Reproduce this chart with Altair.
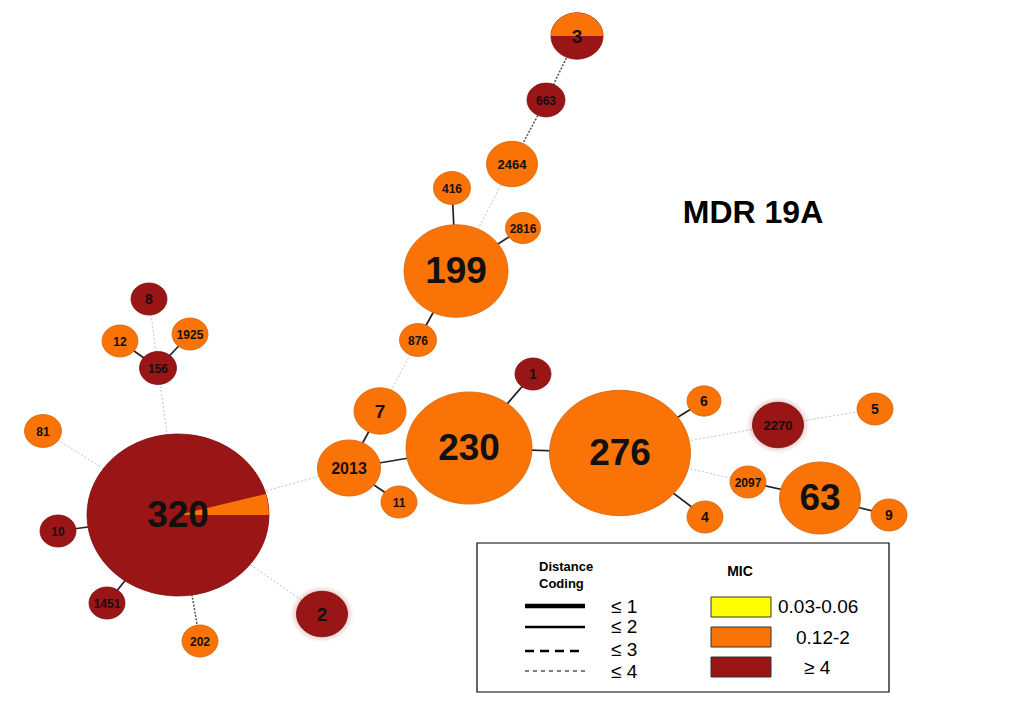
import altair as alt
import pandas as pd

# ---------------- data ----------------
node_id = ["3", "663", "2464", "416", "2816", "199", "876", "7", "2013", "11",
           "230", "1", "276", "6", "4", "2270", "5", "2097", "63", "9",
           "320", "156", "8", "12", "1925", "81", "10", "1451", "202", "2"]
node_x = [577, 546, 512, 452, 523, 456, 418, 380, 349, 399,
          469, 533, 620, 704, 705, 778, 875, 748, 820, 889,
          178, 158, 149, 120, 190, 43, 58, 107, 200, 322]
node_y = [36, 100, 164, 188, 228, 271, 340, 411, 468, 502,
          448, 374, 453, 401, 517, 425, 409, 482, 498, 515,
          515, 368, 299, 341, 334, 431, 531, 603, 641, 614]
node_diam = [52, 38, 51, 37, 35, 104, 37, 52, 63, 36,
             126, 36, 141, 34, 36, 51, 36, 36, 81, 36,
             182, 37, 36, 36, 36, 37, 36, 36, 36, 51]
node_mic = ["≥ 4", "≥ 4", "0.12-2", "0.12-2", "0.12-2", "0.12-2", "0.12-2", "0.12-2", "0.12-2", "0.12-2",
            "0.12-2", "≥ 4", "0.12-2", "0.12-2", "0.12-2", "≥ 4", "0.12-2", "0.12-2", "0.12-2", "0.12-2",
            "≥ 4", "≥ 4", "≥ 4", "0.12-2", "0.12-2", "0.12-2", "≥ 4", "≥ 4", "0.12-2", "≥ 4"]

edge_from = ["3", "663", "2464", "416", "2816", "199", "876", "7", "2013", "2013",
             "2013", "230", "230", "276", "276", "276", "2270", "276", "2097", "63",
             "320", "156", "156", "156", "320", "320", "320", "320", "320"]
edge_to = ["663", "2464", "199", "199", "199", "876", "7", "2013", "230", "11",
           "320", "1", "276", "6", "4", "2270", "5", "2097", "63", "9",
           "156", "8", "12", "1925", "81", "10", "1451", "202", "2"]
edge_dist = [3, 3, 4, 2, 2, 2, 4, 2, 2, 2,
             4, 2, 2, 2, 2, 4, 4, 4, 2, 2,
             4, 4, 2, 2, 4, 2, 2, 3, 4]

mic_classes = ["0.03-0.06", "0.12-2", "≥ 4"]
mic_fill = ["#FFFF00", "#F97306", "#9A1515"]
mic_stroke = ["#C8C800", "#D5640C", "#7A1010"]

dist_labels = ["≤ 1", "≤ 2", "≤ 3", "≤ 4"]

title_text = "MDR 19A"

# ---------------- frames ----------------
nodes = pd.DataFrame({"id": node_id, "x": node_x, "y": node_y,
                      "d": node_diam, "mic": node_mic})
nodes["size"] = nodes["d"] ** 2


def label_size(row):
    if row["d"] >= 75:
        return 37
    if row["d"] >= 45:
        if len(row["id"]) <= 2:
            return 19
        return 16 if row["d"] >= 60 else 13
    if len(row["id"]) == 1:
        return 14
    return 12


nodes["fs"] = nodes.apply(label_size, axis=1)

pos = dict(zip(node_id, zip(node_x, node_y)))
edges = pd.DataFrame({
    "x": [pos[a][0] for a in edge_from], "y": [pos[a][1] for a in edge_from],
    "x2": [pos[b][0] for b in edge_to], "y2": [pos[b][1] for b in edge_to],
    "dist": edge_dist,
})

X = alt.Scale(domain=[8, 1001], nice=False, zero=False)
Y = alt.Scale(domain=[8, 707], nice=False, zero=False, reverse=True)

k = 0.89
c = 0.5523
ellipse = (f"M1,0 C1,{c*k:.4f} {c},{k} 0,{k} C{-c},{k} -1,{c*k:.4f} -1,0 "
           f"C-1,{-c*k:.4f} {-c},{-k} 0,{-k} C{c},{-k} 1,{-c*k:.4f} 1,0 Z")
top_half = (f"M-1,0 C-1,{-c*k:.4f} {-c},{-k} 0,{-k} C{c},{-k} 1,{-c*k:.4f} 1,0 Z")
wedge = "M0,0 L0.967,-0.232 Q0.995,-0.12 1,0 Z"


def enc_xy(ch):
    return ch.encode(x=alt.X("x:Q", scale=X, axis=None),
                     y=alt.Y("y:Q", scale=Y, axis=None))


# edges
styles = {
    2: dict(color="#222222", strokeWidth=1.7),
    3: dict(color="#555555", strokeWidth=1.5, strokeDash=[2, 1.5]),
    4: dict(color="#C4C4C4", strokeWidth=1, strokeDash=[2, 2]),
}
edge_layers = []
for dv, st in styles.items():
    edge_layers.append(
        alt.Chart(edges[edges["dist"] == dv]).mark_rule(**st).encode(
            x=alt.X("x:Q", scale=X, axis=None), y=alt.Y("y:Q", scale=Y, axis=None),
            x2="x2:Q", y2="y2:Q")
    )

# soft glow for 2270 and 2
glow_layers = []
glow_base = nodes[nodes["id"].isin(["2270", "2"])].copy()
for extra, op in [(12, 0.04), (8, 0.06), (4, 0.08)]:
    g = glow_base.copy()
    g["size"] = (g["d"] + extra) ** 2
    glow_layers.append(enc_xy(alt.Chart(g).mark_point(shape=ellipse, filled=True, opacity=op,
                                                      color="#9A1515", strokeWidth=0)).encode(
        size=alt.Size("size:Q", scale=None)))

fill_scale = alt.Scale(domain=mic_classes, range=mic_fill)
stroke_scale = alt.Scale(domain=mic_classes, range=mic_stroke)

node_layer = enc_xy(alt.Chart(nodes).mark_point(shape=ellipse, filled=True, opacity=1,
                                                strokeWidth=0.8)).encode(
    size=alt.Size("size:Q", scale=None),
    fill=alt.Fill("mic:N", scale=fill_scale, legend=None),
    stroke=alt.Stroke("mic:N", scale=stroke_scale, legend=None),
)

# partial slices: 3 top half orange, 320 small orange wedge
half_df = nodes[nodes["id"] == "3"].copy()
half_df["mic"] = "0.12-2"
half_layer = enc_xy(alt.Chart(half_df).mark_point(shape=top_half, filled=True, opacity=1,
                                                   strokeWidth=0)).encode(
    size=alt.Size("size:Q", scale=None),
    fill=alt.Fill("mic:N", scale=fill_scale, legend=None))
wedge_df = nodes[nodes["id"] == "320"].copy()
wedge_df["mic"] = "0.12-2"
wedge_layer = enc_xy(alt.Chart(wedge_df).mark_point(shape=wedge, filled=True, opacity=1,
                                                     strokeWidth=0)).encode(
    size=alt.Size("size:Q", scale=None),
    fill=alt.Fill("mic:N", scale=fill_scale, legend=None))

labels = enc_xy(alt.Chart(nodes).mark_text(font="Liberation Sans", fontWeight="bold",
                                           color="#111111", baseline="middle", dy=1)).encode(
    text="id:N", size=alt.Size("fs:Q", scale=None))

title_df = pd.DataFrame({"x": [753], "y": [213], "t": [title_text]})
title = enc_xy(alt.Chart(title_df).mark_text(font="Liberation Sans", fontSize=32,
                                             fontWeight="bold",
                                             color="#000000", baseline="middle")).encode(text="t:N")

# ---------------- legend box ----------------
box_df = pd.DataFrame({"x": [477], "y": [543], "x2": [889], "y2": [692]})
box = alt.Chart(box_df).mark_rect(fill="white", stroke="#000000", strokeWidth=1.2).encode(
    x=alt.X("x:Q", scale=X, axis=None), y=alt.Y("y:Q", scale=Y, axis=None),
    x2="x2:Q", y2="y2:Q")

head_df = pd.DataFrame({"x": [539, 539], "y": [567, 584], "t": ["Distance", "Coding"]})
heads = enc_xy(alt.Chart(head_df).mark_text(font="Liberation Sans", fontWeight="bold",
                                            fontSize=13, align="left", baseline="middle",
                                            color="#000000")).encode(text="t:N")
mic_head_df = pd.DataFrame({"x": [740], "y": [572], "t": ["MIC"]})
mic_head = enc_xy(alt.Chart(mic_head_df).mark_text(font="Liberation Sans", fontWeight="bold",
                                                   fontSize=14, align="center", baseline="middle",
                                                   color="#000000")).encode(text="t:N")

line_y = [606, 627, 651, 671]
line_st = [dict(strokeWidth=4.5), dict(strokeWidth=2.5),
           dict(strokeWidth=2.5, strokeDash=[9, 6]), dict(strokeWidth=1, strokeDash=[4, 4])]
leg_lines = []
for ly, st in zip(line_y, line_st):
    ldf = pd.DataFrame({"x": [525], "x2": [585], "y": [ly]})
    leg_lines.append(alt.Chart(ldf).mark_rule(color="#000000", **st).encode(
        x=alt.X("x:Q", scale=X, axis=None), x2="x2:Q", y=alt.Y("y:Q", scale=Y, axis=None)))

dl_df = pd.DataFrame({"x": [611, 611, 611, 611], "y": [607, 627, 650, 672], "t": dist_labels})
dist_text = enc_xy(alt.Chart(dl_df).mark_text(font="Liberation Sans", fontSize=19,
                                              align="left", baseline="middle",
                                              color="#000000")).encode(text="t:N")

sw_df = pd.DataFrame({"x": [711, 711, 711], "x2": [771, 771, 771],
                      "y": [597, 627, 657], "y2": [617, 647, 677], "mic": mic_classes})
swatches = alt.Chart(sw_df).mark_rect(stroke="#333333", strokeWidth=1).encode(
    x=alt.X("x:Q", scale=X, axis=None), y=alt.Y("y:Q", scale=Y, axis=None),
    x2="x2:Q", y2="y2:Q",
    fill=alt.Fill("mic:N", scale=fill_scale, legend=None))

ml_df = pd.DataFrame({"x": [778, 796, 804], "y": [607, 638, 668], "t": mic_classes})
mic_text = enc_xy(alt.Chart(ml_df).mark_text(font="Liberation Sans", fontSize=19,
                                             align="left", baseline="middle",
                                             color="#000000")).encode(text="t:N")

chart = alt.layer(
    *edge_layers, *glow_layers, node_layer, half_layer, wedge_layer, labels, title,
    box, heads, mic_head, *leg_lines, dist_text, swatches, mic_text
).properties(width=993, height=699, padding=0, background="white").configure_view(stroke=None)

chart.save("out.html", embed_options={"renderer": "svg", "actions": False})
